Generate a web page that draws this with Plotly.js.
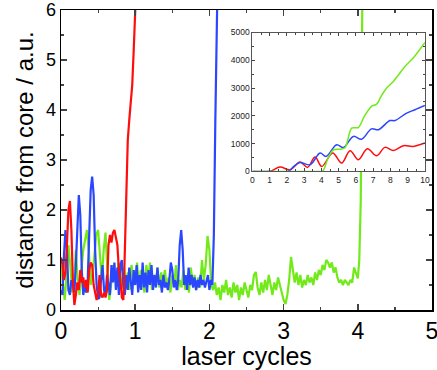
<!DOCTYPE html>
<html>
<head>
<meta charset="utf-8">
<script src="https://cdn.plot.ly/plotly-3.0.1.min.js"></script>
<style>
  html, body { margin: 0; padding: 0; background: #fff; }
  #plot { width: 437px; height: 370px; }
</style>
</head>
<body>
<div id="plot"></div>
<script>
// main panel: distance from core vs laser cycles
const redT = [0.00, 0.02, 0.04, 0.06, 0.08, 0.10, 0.12, 0.14, 0.16, 0.18, 0.20, 0.22, 0.24, 0.26, 0.28, 0.30,
  0.32, 0.34, 0.36, 0.38, 0.40, 0.42, 0.44, 0.46, 0.48, 0.50, 0.52, 0.54, 0.56, 0.58, 0.60, 0.62, 0.64, 0.66,
  0.68, 0.70, 0.72, 0.74, 0.76, 0.78, 0.80, 0.82, 0.84, 0.85, 0.86, 0.88, 0.90, 0.92, 0.94, 0.96, 0.98, 1.00,
  1.02, 1.04];
const redR = [1.05, 0.9, 0.6, 0.75, 1.3, 2.0, 2.18, 1.6, 0.6, 0.1, 0.3, 0.55, 0.4, 0.8, 0.55, 0.65,
  0.45, 0.6, 0.35, 0.8, 0.95, 0.9, 0.5, 0.3, 0.2, 0.35, 0.7, 0.3, 0.25, 0.35, 0.25, 0.4, 1.3, 1.5,
  1.35, 1.55, 1.6, 1.45, 1.3, 0.8, 0.6, 0.25, 0.2, 0.6, 1.3, 2.6, 3.4, 3.8, 4.1, 4.5, 5.2, 5.8,
  6.5, 7.5];

const blueT = [0.00, 0.02, 0.04, 0.06, 0.08, 0.10, 0.12, 0.14, 0.16, 0.18, 0.20, 0.22, 0.24, 0.26, 0.28, 0.30,
  0.32, 0.34, 0.36, 0.38, 0.40, 0.42, 0.44, 0.46, 0.48, 0.50, 0.52, 0.54, 0.56, 0.58, 0.60, 0.62, 0.64, 0.66,
  0.68, 0.70, 0.72, 0.74, 0.76, 0.78, 0.80, 0.82, 0.84, 0.86, 0.88, 0.90, 0.92, 0.94, 0.96, 0.98, 1.00,
  1.02, 1.04, 1.06, 1.08, 1.10, 1.12, 1.14, 1.16, 1.18, 1.20, 1.22, 1.24, 1.26, 1.28, 1.30, 1.32, 1.34,
  1.36, 1.38, 1.40, 1.42, 1.44, 1.46, 1.48, 1.50, 1.52, 1.54, 1.56, 1.58, 1.60, 1.62, 1.64, 1.66, 1.68,
  1.70, 1.72, 1.74, 1.76, 1.78, 1.80, 1.82, 1.84, 1.86, 1.88, 1.90, 1.92, 1.94, 1.96, 1.98, 2.00, 2.02,
  2.04, 2.06, 2.08, 2.10, 2.12];
const blueR = [0.4, 0.3, 1.1, 1.6, 1.2, 0.4, 0.3, 0.6, 0.5, 0.35, 0.9, 1.8, 2.3, 1.9, 0.8, 0.3,
  0.5, 0.35, 0.6, 1.5, 2.4, 2.67, 2.3, 1.2, 0.5, 0.22, 0.25, 0.6, 0.9, 0.4, 0.3, 0.7, 0.5, 0.3,
  0.9, 0.55, 0.95, 0.4, 0.85, 0.3, 0.9, 1.0, 0.5, 0.3, 0.7, 0.4, 0.85, 0.5, 0.3, 0.8, 0.5,
  0.9, 0.35, 0.7, 0.4, 0.95, 0.45, 0.75, 0.35, 0.8, 0.5, 0.9, 0.4, 0.7, 0.45, 0.85, 0.5, 0.6,
  0.35, 0.7, 0.45, 0.55, 0.4, 0.6, 0.95, 0.8, 0.45, 0.6, 0.4, 0.6, 1.3, 1.6, 1.2, 0.5, 0.7,
  0.4, 0.85, 0.5, 0.7, 0.45, 0.65, 0.4, 0.6, 0.45, 0.7, 0.5, 0.6, 0.45, 0.55, 0.7, 0.4, 0.6,
  0.5, 1.5, 3.8, 6.0, 7.5];

const greenT = [0.000, 0.025, 0.050, 0.075, 0.100, 0.125, 0.150, 0.175, 0.200, 0.225, 0.250, 0.275, 0.300,
  0.325, 0.350, 0.375, 0.400, 0.425, 0.450, 0.475, 0.500, 0.525, 0.550, 0.575, 0.600, 0.625, 0.650,
  0.675, 0.700, 0.725, 0.750, 0.775, 0.800, 0.825, 0.850, 0.875, 0.900, 0.925, 0.950, 0.975, 1.000,
  1.025, 1.050, 1.075, 1.100, 1.125, 1.150, 1.175, 1.200, 1.225, 1.250, 1.275, 1.300, 1.325, 1.350,
  1.375, 1.400, 1.425, 1.450, 1.475, 1.500, 1.525, 1.550, 1.575, 1.600, 1.625, 1.650, 1.675, 1.700,
  1.725, 1.750, 1.775, 1.800, 1.825, 1.850, 1.875, 1.900, 1.925, 1.950, 1.975, 2.000, 2.025, 2.050,
  2.075, 2.100, 2.125, 2.150, 2.175, 2.200, 2.225, 2.250, 2.275, 2.300, 2.325, 2.350, 2.375, 2.400,
  2.425, 2.450, 2.475, 2.500, 2.525, 2.550, 2.575, 2.600, 2.625, 2.650, 2.675, 2.700, 2.725, 2.750,
  2.775, 2.800, 2.825, 2.850, 2.875, 2.900, 2.925, 2.950, 2.975, 3.000, 3.025, 3.050, 3.075, 3.100,
  3.125, 3.150, 3.175, 3.200, 3.225, 3.250, 3.275, 3.300, 3.325, 3.350, 3.375, 3.400, 3.425, 3.450,
  3.475, 3.500, 3.525, 3.550, 3.575, 3.600, 3.625, 3.650, 3.675, 3.700, 3.725, 3.750, 3.775, 3.800,
  3.825, 3.850, 3.875, 3.900, 3.925, 3.950, 3.975, 4.000, 4.020, 4.040, 4.050, 4.060, 4.070];
const greenR = [0.9, 0.6, 0.2, 0.7, 1.3, 0.9, 0.35, 0.5, 1.2, 0.6, 0.3, 0.8, 1.2,
  1.4, 1.6, 1.2, 0.5, 0.7, 1.1, 1.5, 1.6, 1.1, 0.6, 1.2, 1.55, 0.8, 0.2,
  0.5, 0.9, 0.6, 0.5, 0.95, 0.7, 0.45, 0.85, 0.5, 0.75, 0.4, 0.9, 0.6, 0.5,
  0.95, 0.45, 0.8, 0.55, 0.35, 0.9, 0.6, 0.95, 0.4, 0.7, 0.5, 0.85, 0.45, 0.75,
  0.55, 0.8, 0.45, 0.65, 0.35, 0.7, 0.5, 0.9, 0.4, 0.6, 0.45, 0.8, 0.4, 0.6,
  0.35, 0.85, 0.5, 0.7, 0.4, 0.65, 0.45, 1.0, 0.6, 0.9, 1.48, 1.2, 0.5, 0.4,
  0.55, 0.3, 0.45, 0.2, 0.5, 0.35, 0.6, 0.3, 0.45, 0.25, 0.55, 0.35, 0.5, 0.2,
  0.45, 0.3, 0.55, 0.4, 0.25, 0.5, 0.4, 0.7, 0.76, 0.45, 0.3, 0.55, 0.35, 0.6,
  0.4, 0.7, 0.45, 0.3, 0.55, 0.4, 0.65, 0.5, 0.3, 0.2, 0.12, 0.3, 0.6, 1.06,
  0.8, 0.55, 0.75, 0.5, 0.7, 0.45, 0.6, 0.5, 0.7, 0.55, 0.65, 0.5, 0.75, 0.6,
  0.8, 0.7, 0.9, 0.8, 1.0, 0.95, 0.85, 0.95, 0.75, 0.85, 0.65, 0.55, 0.6, 0.5,
  0.6, 0.55, 0.5, 0.6, 0.55, 0.85, 0.75, 0.63, 1.0, 2.2, 4.0, 6.0, 8.0];

// inset: long-time behaviour
const insRedT = [0, 1.0, 1.6, 2.18, 2.76, 3.19, 3.63, 4.02, 4.65, 5.17, 5.66, 6.14, 6.66, 7.2, 7.68, 8.17, 8.75, 9.32, 10];
const insRedR = [0, 0, 155, 60, 335, 145, 515, 180, 660, 300, 745, 420, 815, 565, 865, 755, 925, 900, 1020];

const insBlueT = [0, 1.0, 2.05, 2.4, 2.76, 3.34, 3.92, 4.27, 4.88, 5.27, 5.85, 6.33, 6.9, 7.3, 7.97, 8.26, 8.94, 9.42, 10];
const insBlueR = [0, 0, 0, 180, 320, 240, 660, 540, 960, 860, 1260, 1160, 1530, 1500, 1830, 1830, 2100, 2220, 2370];

const insGreenT = [0, 2.0, 4.0, 4.1, 4.4, 4.7, 5.1, 5.37, 5.75, 6.14, 6.5, 6.9, 7.2, 7.5, 7.78, 8.17, 8.5, 8.84, 9.32, 10];
const insGreenR = [0, 0, 0, 20, 500, 780, 800, 850, 1560, 1580, 2000, 2340, 2420, 2750, 3000, 3240, 3500, 3780, 4080, 4640];

const xTicks = [0, 1, 2, 3, 4, 5];
const yTicks = [0, 1, 2, 3, 4, 5, 6];
const insXTicks = [0, 1, 2, 3, 4, 5, 6, 7, 8, 9, 10];
const insYTicks = [0, 1000, 2000, 3000, 4000, 5000];

const RED = '#ff0d0d', BLUE = '#2a46ff', GREEN = '#72ea1a';

const traces = [
  { x: greenT, y: greenR, mode: 'lines', line: { color: GREEN, width: 2.2 } },
  { x: blueT, y: blueR, mode: 'lines', line: { color: BLUE, width: 2.2 } },
  { x: redT, y: redR, mode: 'lines', line: { color: RED, width: 2.2 } },
  { x: insRedT, y: insRedR, xaxis: 'x2', yaxis: 'y2', mode: 'lines',
    line: { color: RED, width: 1.5, shape: 'spline', smoothing: 1 } },
  { x: insBlueT, y: insBlueR, xaxis: 'x2', yaxis: 'y2', mode: 'lines',
    line: { color: BLUE, width: 1.5, shape: 'spline', smoothing: 1 } },
  { x: insGreenT, y: insGreenR, xaxis: 'x2', yaxis: 'y2', mode: 'lines',
    line: { color: GREEN, width: 1.5, shape: 'spline', smoothing: 0.8 } }
];

const font = 'Liberation Sans, Arial, sans-serif';

Plotly.newPlot('plot', traces, {
  width: 437, height: 370,
  margin: { l: 61, r: 5, t: 10, b: 60 },
  showlegend: false,
  font: { family: font, color: '#000' },
  plot_bgcolor: 'white', paper_bgcolor: 'white',
  xaxis: {
    range: [0, 5], tickvals: xTicks, ticktext: xTicks.map(String), ticklabeloverflow: 'allow',
    ticks: 'inside', ticklen: 6, tickwidth: 1.5, showline: true, linewidth: 1.5, linecolor: '#000',
    mirror: 'ticks', showgrid: false, zeroline: false, tickfont: { size: 23 },
    minor: { dtick: 0.5, ticks: 'inside', ticklen: 3, tickwidth: 1.2, showgrid: false },
    title: { text: 'laser cycles', font: { size: 25 }, standoff: 4 }
  },
  yaxis: {
    range: [0, 6], tickvals: yTicks, ticktext: yTicks.map(String), ticklabeloverflow: 'allow',
    ticks: 'inside', ticklen: 6, tickwidth: 1.5, showline: true, linewidth: 1.5, linecolor: '#000',
    mirror: 'ticks', showgrid: false, zeroline: false, tickfont: { size: 18 },
    minor: { dtick: 0.5, ticks: 'inside', ticklen: 3, tickwidth: 1.2, showgrid: false },
    title: { text: 'distance from core / a.u.', font: { size: 24 }, standoff: 5 }
  },
  xaxis2: {
    domain: [0.516, 0.981], anchor: 'y2', range: [0, 10],
    tickvals: insXTicks, ticktext: insXTicks.map(String),
    ticks: 'inside', ticklen: 3, showline: true, linewidth: 1, linecolor: '#555',
    mirror: 'ticks', showgrid: false, zeroline: false, tickfont: { size: 8.5, color: '#222' },
    minor: { dtick: 0.5, ticks: 'inside', ticklen: 2, showgrid: false }
  },
  yaxis2: {
    domain: [0.462, 0.925], anchor: 'x2', range: [0, 5000],
    tickvals: insYTicks, ticktext: insYTicks.map(String),
    ticks: 'inside', ticklen: 3, showline: true, linewidth: 1, linecolor: '#555',
    mirror: 'ticks', showgrid: false, zeroline: false, tickfont: { size: 8.5, color: '#222' },
    minor: { dtick: 500, ticks: 'inside', ticklen: 2, showgrid: false }
  }
}, { displayModeBar: false, staticPlot: true });
</script>
</body>
</html>
